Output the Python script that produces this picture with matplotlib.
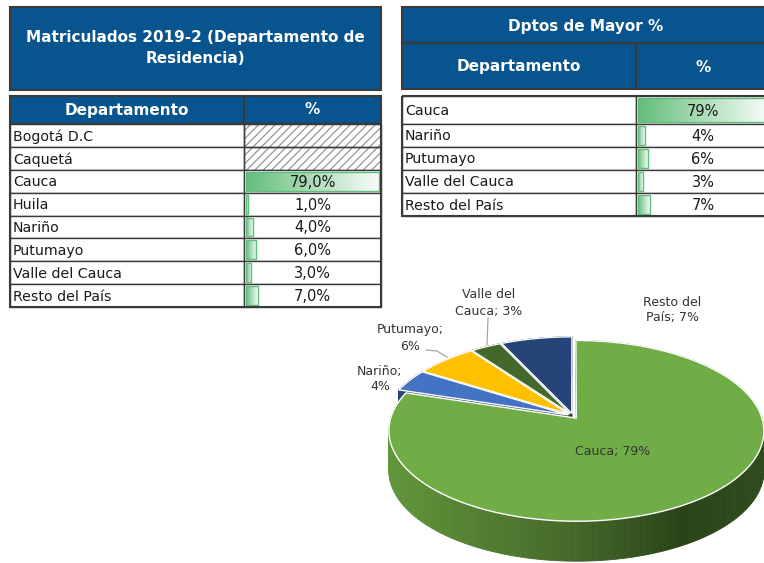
import textwrap
import numpy as np
import matplotlib.pyplot as plt
from matplotlib.patches import Rectangle, Polygon
from matplotlib.colors import LinearSegmentedColormap, to_rgb

# ---- data ----
t1_title = 'Matriculados 2019-2 (Departamento de\nResidencia)'
t1_depts = ['Bogotá D.C', 'Caquetá', 'Cauca', 'Huila', 'Nariño',
            'Putumayo', 'Valle del Cauca', 'Resto del País']
t1_pct = [np.nan, np.nan, 79.0, 1.0, 4.0, 6.0, 3.0, 7.0]

t2_title = 'Dptos de Mayor %'
t2_depts = ['Cauca', 'Nariño', 'Putumayo', 'Valle del Cauca', 'Resto del País']
t2_pct = [79, 4, 6, 3, 7]

col_headers = ['Departamento', '%']
pie_colors = ['#70AD47', '#4472C4', '#FFC000', '#43682B', '#264478']

# ---- style ----
BLUE = '#08548E'
GRID = '#3A3A3A'
BAR = '#63BE7B'
TXT = '#1A1A1A'
plt.rcParams['font.family'] = ['DejaVu Sans']
plt.rcParams['hatch.linewidth'] = 0.8

fig = plt.figure(figsize=(7.64, 5.63), dpi=100)
ax = fig.add_axes([0, 0, 1, 1])
ax.set_xlim(0, 764)
ax.set_ylim(563, 0)
ax.axis('off')

bar_cmap = LinearSegmentedColormap.from_list('bar', [BAR, '#FFFFFF'])


def box(x0, y0, x1, y1, fc='white', lw=1.0, hatch=None):
    if hatch:
        ax.add_patch(Rectangle((x0, y0), x1 - x0, y1 - y0, facecolor='white',
                               edgecolor='#8A8A8A', lw=0, hatch=hatch))
        fc = 'none'
    ax.add_patch(Rectangle((x0, y0), x1 - x0, y1 - y0, facecolor=fc,
                           edgecolor=GRID, lw=lw, zorder=1.5))


def databar(x0, x1, y0, y1, frac):
    bx0 = x0 + 2
    bx1 = bx0 + (x1 - x0 - 4) * frac
    by0, by1 = y0 + 2, y1 - 2
    grad = np.linspace(0, 0.95, 256)[None, :]
    ax.imshow(grad, cmap=bar_cmap, vmin=0, vmax=1, extent=(bx0, bx1, by1, by0),
              aspect='auto', zorder=2, interpolation='bilinear')
    ax.add_patch(Rectangle((bx0, by0), bx1 - bx0, by1 - by0, fill=False,
                           edgecolor=BAR, lw=1, zorder=3))


def header_text(x, y, s, size=11):
    ax.text(x, y, s, color='white', fontsize=size, fontweight='bold',
            ha='center', va='center', zorder=4, linespacing=1.55)


# ---- table 1 ----
L1, M1, R1 = 10, 244, 381
box(L1, 7, R1, 90, fc=BLUE, lw=1.5)
header_text((L1 + R1) / 2, 48, t1_title, size=11)
box(L1, 96, M1, 124, fc=BLUE, lw=1.5)
box(M1, 96, R1, 124, fc=BLUE, lw=1.5)
header_text((L1 + M1) / 2, 110, col_headers[0])
header_text((M1 + R1) / 2, 110, col_headers[1])

rh1 = (307 - 124) / len(t1_depts)
vmax1 = np.nanmax(t1_pct)
for i, (d, v) in enumerate(zip(t1_depts, t1_pct)):
    y0, y1 = 124 + i * rh1, 124 + (i + 1) * rh1
    box(L1, y0, M1, y1)
    if np.isnan(v):
        box(M1, y0, R1, y1, hatch='////')
    else:
        box(M1, y0, R1, y1)
        databar(M1, R1, y0, y1, v / vmax1)
        ax.text((M1 + R1) / 2, (y0 + y1) / 2 + 1, f'{v:.1f}%'.replace('.', ','),
                fontsize=10.5, color=TXT, ha='center', va='center', zorder=4)
    ax.text(L1 + 3, (y0 + y1) / 2 + 1, d, fontsize=10.2, color=TXT,
            ha='left', va='center', zorder=4)
ax.add_patch(Rectangle((L1, 124), R1 - L1, 307 - 124, fill=False, edgecolor=GRID, lw=1.5, zorder=3))

# ---- table 2 ----
L2, M2, R2 = 402, 636, 770
box(L2, 7, R2, 43, fc=BLUE, lw=1.5)
header_text((L2 + R2) / 2, 26, t2_title)
box(L2, 43, M2, 89, fc=BLUE, lw=1.5)
box(M2, 43, R2, 89, fc=BLUE, lw=1.5)
header_text((L2 + M2) / 2, 67, col_headers[0])
header_text((M2 + R2) / 2, 67, col_headers[1])

rows2 = [96, 124, 147, 170, 193, 216]
vmax2 = max(t2_pct)
for i, (d, v) in enumerate(zip(t2_depts, t2_pct)):
    y0, y1 = rows2[i], rows2[i + 1]
    box(L2, y0, M2, y1)
    box(M2, y0, R2, y1)
    databar(M2, R2, y0, y1, v / vmax2)
    ax.text((M2 + R2) / 2, (y0 + y1) / 2 + 1, f'{v}%', fontsize=10.5, color=TXT,
            ha='center', va='center', zorder=4)
    ax.text(L2 + 3, (y0 + y1) / 2 + 1, d, fontsize=10.2, color=TXT,
            ha='left', va='center', zorder=4)
ax.add_patch(Rectangle((L2, 96), R2 - L2, 216 - 96, fill=False, edgecolor=GRID, lw=1.5, zorder=3))

# ---- 3D pie ----
k, Sx, Sy = 0.14, 185.0, 88.0
cx, cy, depth = 573.0, 416.0, 40.0
explode = 0.03


def proj(X, Z):
    w = 1 + k * Z
    return cx + Sx * X / w, cy - Sy * Z / w


def shade(c, f):
    return tuple(np.array(to_rgb(c)) * f)


side_cmap = LinearSegmentedColormap.from_list(
    'side', [(0, '#619639'), (0.5, '#45692A'), (0.8, '#2A4418'), (1, '#2F4B1D')])

total = sum(t2_pct)
bounds = 90 - 360 * np.concatenate([[0], np.cumsum(t2_pct)]) / total
mids = (bounds[:-1] + bounds[1:]) / 2
order = np.argsort(-np.sin(np.radians(mids)))   # far slices first

for i in order:
    a0, a1 = bounds[i], bounds[i + 1]
    m = np.radians(mids[i])
    ox, oz = explode * np.cos(m), explode * np.sin(m)
    t = np.radians(np.linspace(a0, a1, 200))
    rx, ry = proj(ox + np.cos(t), oz + np.sin(t))
    apx, apy = proj(ox, oz)
    dark = shade(pie_colors[i], 0.6)
    # radial faces
    for ex, ey in [(rx[0], ry[0]), (rx[-1], ry[-1])]:
        ax.add_patch(Polygon([(apx, apy), (ex, ey), (ex, ey + depth), (apx, apy + depth)],
                             closed=True, facecolor=dark, edgecolor=dark, lw=0.5, zorder=5))
    # rim wall
    xmin, xmax = cx - Sx, cx + Sx
    for j in range(len(t) - 1):
        if i == 0:
            c = side_cmap(np.clip((rx[j] - xmin) / (xmax - xmin), 0, 1))
        else:
            c = dark
        ax.add_patch(Polygon([(rx[j], ry[j]), (rx[j + 1], ry[j + 1]),
                              (rx[j + 1], ry[j + 1] + depth), (rx[j], ry[j] + depth)],
                             closed=True, facecolor=c, edgecolor=c, lw=0.6, zorder=5))
    # top face
    ax.add_patch(Polygon([(apx, apy)] + list(zip(rx, ry)), closed=True,
                         facecolor=pie_colors[i], edgecolor='white', lw=1.0, zorder=5))

# data labels
label_pos = [(613, 451), (380, 379), (410, 338), (489, 303), (672, 310)]
for i, (d, v) in enumerate(zip(t2_depts, t2_pct)):
    s = f'{d}; {v}%'
    if i > 0:
        s = '\n'.join(textwrap.wrap(s, 9))
    ax.text(label_pos[i][0], label_pos[i][1], s, fontsize=9, color='#333333',
            ha='center', va='center', linespacing=1.3, zorder=6)

# leader lines
ax.plot([426, 437, 447], [350, 351, 357], color='#A6A6A6', lw=0.9, zorder=6)
ax.plot([488, 487], [318, 345], color='#A6A6A6', lw=0.9, zorder=6)

ax.set_xlim(0, 764)
ax.set_ylim(563, 0)
fig.savefig('out.png', dpi=100)
